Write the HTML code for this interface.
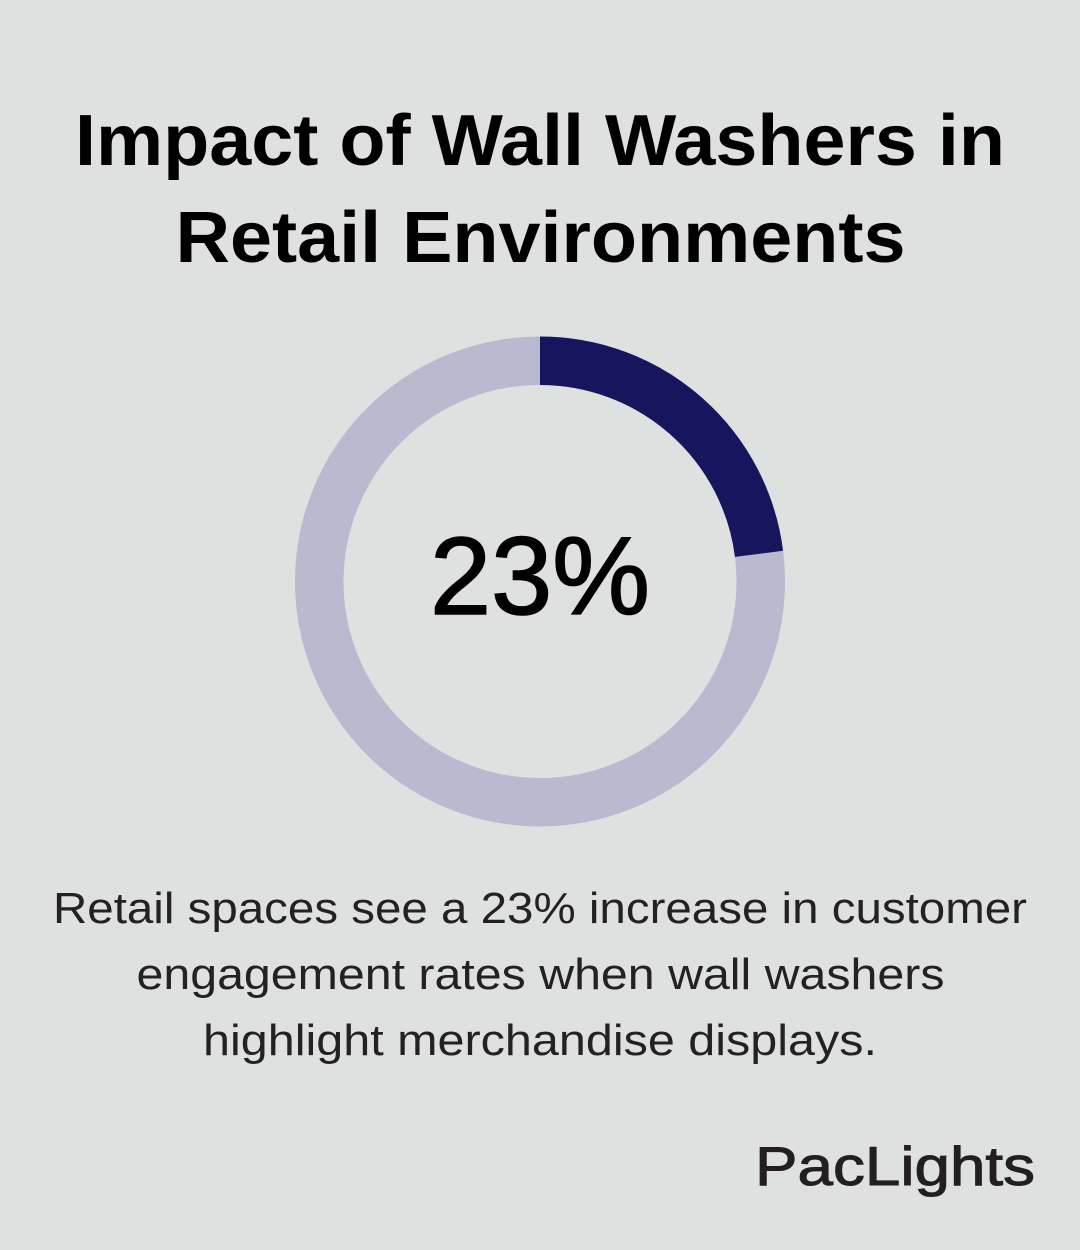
<!DOCTYPE html>
<html>
<head>
<meta charset="utf-8">
<style>
  html, body { margin: 0; padding: 0; background: #dfe1e0; }
  body { width: 1080px; height: 1250px; overflow: hidden; }
  svg { display: block; }
  text { font-family: "Liberation Sans", "DejaVu Sans", sans-serif; }
</style>
</head>
<body>
<svg width="1080" height="1250" viewBox="0 0 1080 1250" xmlns="http://www.w3.org/2000/svg">
  <rect x="0" y="0" width="1080" height="1250" fill="#dfe1e0"/>

  <!-- Title -->
  <text x="540" y="165" text-anchor="middle" font-size="72" font-weight="bold" fill="#000" textLength="930" lengthAdjust="spacingAndGlyphs">Impact of Wall Washers in</text>
  <text x="540.5" y="262" text-anchor="middle" font-size="72" font-weight="bold" fill="#000" textLength="730" lengthAdjust="spacingAndGlyphs">Retail Environments</text>

  <!-- Donut -->
  <circle cx="540" cy="581.5" r="220.75" fill="none" stroke="#b9bacf" stroke-width="48.5"/>
  <path d="M 540 360.75 A 220.75 220.75 0 0 1 759.01 553.83" fill="none" stroke="#16165e" stroke-width="48.5" stroke-linecap="butt"/>

  <!-- Center value -->
  <text x="540" y="614" text-anchor="middle" font-size="110" fill="#000" stroke="#000" stroke-width="1.6" textLength="220" lengthAdjust="spacingAndGlyphs">23%</text>

  <!-- Description -->
  <text x="540" y="923" text-anchor="middle" font-size="44" fill="#222" textLength="974" lengthAdjust="spacingAndGlyphs">Retail spaces see a 23% increase in customer</text>
  <text x="540.5" y="989" text-anchor="middle" font-size="44" fill="#222" textLength="808" lengthAdjust="spacingAndGlyphs">engagement rates when wall washers</text>
  <text x="540" y="1055" text-anchor="middle" font-size="44" fill="#222" textLength="674" lengthAdjust="spacingAndGlyphs">highlight merchandise displays.</text>

  <!-- Logo -->
  <text x="895" y="1185" text-anchor="middle" font-size="55" fill="#231f20" stroke="#231f20" stroke-width="1" textLength="280" lengthAdjust="spacingAndGlyphs">PacLights</text>
</svg>
</body>
</html>
